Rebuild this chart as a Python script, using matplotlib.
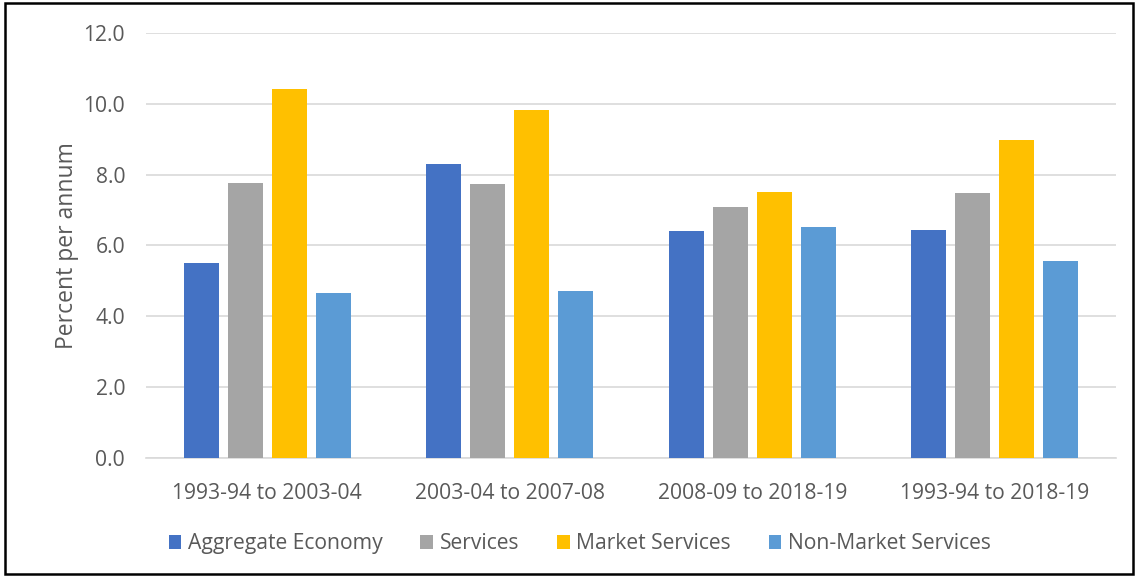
import numpy as np
import matplotlib.pyplot as plt
from matplotlib.patches import Rectangle

periods = ['1993-94 to 2003-04', '2003-04 to 2007-08', '2008-09 to 2018-19', '1993-94 to 2018-19']
series = ['Aggregate Economy', 'Services', 'Market Services', 'Non-Market Services']
aggregate = [5.51, 8.29, 6.41, 6.44]
services = [7.77, 7.74, 7.10, 7.49]
market = [10.43, 9.83, 7.51, 8.99]
non_market = [4.67, 4.72, 6.51, 5.55]
colors = ['#4472C4', '#A5A5A5', '#FFC000', '#5B9BD5']

plt.rcParams['font.family'] = ['Open Sans', 'DejaVu Sans']
txt = '#595959'

fig = plt.figure(figsize=(11.36, 5.76), dpi=100)
ax = fig.add_axes([0.1285, 0.2049, 0.8539, 0.7378])

x = np.arange(len(periods))
width = 0.144
step = 0.181
for i, (name, vals) in enumerate(zip(series, [aggregate, services, market, non_market])):
    ax.bar(x + (i - 1.5) * step, vals, width, color=colors[i], label=name, zorder=3)

ax.set_xlim(-0.5, 3.5)
ax.set_ylim(0, 12)
ax.set_yticks(np.arange(0, 12.1, 2))
ax.set_yticklabels(['%.1f' % v for v in np.arange(0, 12.1, 2)])
ax.set_xticks(x)
ax.set_xticklabels(periods)
ax.grid(axis='y', color='#D9D9D9', linewidth=1.2, zorder=0)
for s in ['top', 'right', 'left']:
    ax.spines[s].set_visible(False)
ax.spines['bottom'].set_color('#D9D9D9')
ax.spines['bottom'].set_linewidth(1.2)
ax.tick_params(axis='both', length=0, labelsize=15.2, colors=txt)
ax.tick_params(axis='x', pad=18)
ax.tick_params(axis='y', pad=15)
ax.set_ylabel('Percent per annum', fontsize=16.5, color=txt, labelpad=3)

ax.legend(loc='center', bbox_to_anchor=(0.447, -0.202), ncol=4, frameon=False,
          fontsize=15.2, labelcolor=txt, handlelength=0.6, handleheight=0.7,
          handletextpad=0.3, columnspacing=1.8)

fig.patches.append(Rectangle((0.004, 0.003), 0.993, 0.991, transform=fig.transFigure,
                             fill=False, edgecolor='black', linewidth=1.8))

fig.savefig('out.png', dpi=100)
